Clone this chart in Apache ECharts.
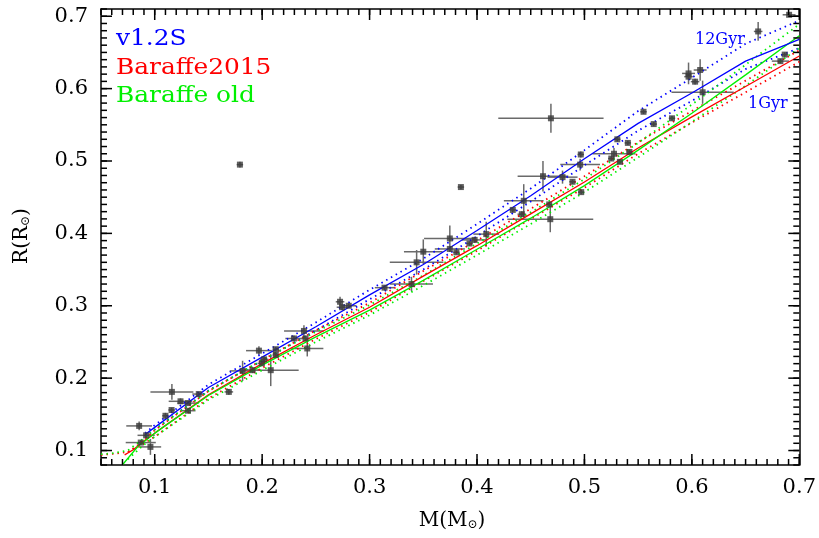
<!DOCTYPE html>
<html>
<head>
<meta charset="utf-8">
<script src="https://cdn.jsdelivr.net/npm/echarts@6.0.0/dist/echarts.min.js"></script>
<style>
  html, body { margin: 0; padding: 0; background: #fff; }
  #chart { width: 819px; height: 538px; }
</style>
</head>
<body>
<div id="chart"></div>
<script>
// observed stars: mass, radius and their errors
const starMass = [0.0855, 0.092, 0.087, 0.096, 0.116, 0.124, 0.131, 0.110, 0.1157, 0.131, 0.141, 0.169,
  0.1818, 0.191, 0.208, 0.197, 0.2018, 0.2127, 0.2127, 0.1997, 0.2296, 0.2389, 0.242, 0.2404,
  0.2725, 0.2744, 0.2806, 0.3139, 0.339, 0.3438, 0.350, 0.3747, 0.3747, 0.3808, 0.393, 0.3978, 0.4086,
  0.4688, 0.4435, 0.4333, 0.4417, 0.4614, 0.4796, 0.4682, 0.4672, 0.4889, 0.4966, 0.496, 0.497,
  0.5306, 0.5404, 0.5275, 0.525, 0.533, 0.5419, 0.555, 0.5645, 0.5815,
  0.5969, 0.5969, 0.6077, 0.603, 0.610, 0.6617, 0.6824, 0.6864, 0.6905, 0.1793, 0.385];
const starMassErr = [0.012, 0.008, 0.014, 0.010, 0.020, 0.011, 0.010, 0.003, 0.003, 0.007, 0.006, 0.004,
  0.012, 0.008, 0.026, 0.012, 0.004, 0.003, 0.003, 0.004, 0.008, 0.0185, 0.015, 0.004,
  0.004, 0.005, 0.007, 0.009, 0.020, 0.025, 0.018, 0.024, 0.014, 0.003, 0.003, 0.012, 0.012,
  0.049, 0.0185, 0.003, 0.004, 0.0236, 0.014, 0.040, 0.003, 0.003, 0.003, 0.0185, 0.003,
  0.003, 0.003, 0.020, 0.003, 0.003, 0.003, 0.003, 0.003, 0.003,
  0.006, 0.004, 0.006, 0.004, 0.029, 0.004, 0.008, 0.003, 0.006, 0.003, 0.003];
const starR = [0.134, 0.121, 0.111, 0.105, 0.181, 0.168, 0.1655, 0.148, 0.156, 0.155, 0.178, 0.181,
  0.210, 0.211, 0.211, 0.238, 0.226, 0.240, 0.232, 0.2205, 0.2548, 0.2652, 0.241, 0.2548,
  0.3055, 0.298, 0.300, 0.325, 0.330, 0.360, 0.3747, 0.393, 0.3785, 0.3738, 0.386, 0.391, 0.399,
  0.559, 0.445, 0.4324, 0.4265, 0.479, 0.4777, 0.4196, 0.440, 0.4713, 0.509, 0.495, 0.457,
  0.530, 0.525, 0.510, 0.5034, 0.4988, 0.5125, 0.568, 0.551, 0.559,
  0.621, 0.6165, 0.6257, 0.6096, 0.595, 0.679, 0.638, 0.647, 0.702, 0.495, 0.464];
const starRErr = [0.006, 0.004, 0.003, 0.011, 0.011, 0.004, 0.003, 0.004, 0.003, 0.003, 0.003, 0.004,
  0.014, 0.004, 0.022, 0.006, 0.004, 0.003, 0.003, 0.003, 0.004, 0.008, 0.011, 0.004,
  0.007, 0.004, 0.003, 0.003, 0.010, 0.017, 0.017, 0.018, 0.004, 0.003, 0.003, 0.004, 0.017,
  0.020, 0.023, 0.003, 0.004, 0.021, 0.009, 0.018, 0.003, 0.003, 0.004, 0.008, 0.003,
  0.003, 0.003, 0.008, 0.003, 0.003, 0.003, 0.003, 0.003, 0.003,
  0.015, 0.004, 0.015, 0.004, 0.016, 0.013, 0.003, 0.003, 0.003, 0.004, 0.003];

// v1.2S tracks (solid = mid age, dotted = 12 Gyr and 1 Gyr)
const v12sMass = [0.091, 0.1, 0.15, 0.2, 0.25, 0.3, 0.35, 0.4, 0.45, 0.5, 0.55, 0.6, 0.65, 0.7];
const v12sR = [0.122, 0.132, 0.187, 0.229, 0.271, 0.315, 0.357, 0.404, 0.452, 0.503, 0.552, 0.594, 0.638, 0.668];
const v12sR12 = [0.124, 0.135, 0.191, 0.234, 0.277, 0.322, 0.365, 0.413, 0.462, 0.515, 0.569, 0.615, 0.662, 0.694];
const v12sR1 = [0.120, 0.129, 0.183, 0.224, 0.266, 0.309, 0.350, 0.396, 0.444, 0.494, 0.542, 0.583, 0.627, 0.656];

// Baraffe 2015 tracks
const bhac15Mass = [0.072, 0.08, 0.09, 0.1, 0.15, 0.2, 0.25, 0.3, 0.35, 0.4, 0.45, 0.5, 0.55, 0.6, 0.65, 0.7];
const bhac15R = [0.094, 0.101, 0.113, 0.124, 0.177, 0.220, 0.260, 0.298, 0.341, 0.383, 0.427, 0.471, 0.518, 0.561, 0.603, 0.645];
const bhac15Mass12 = [0.075, 0.085, 0.1, 0.15, 0.2, 0.25, 0.3, 0.35, 0.4, 0.45, 0.5, 0.55, 0.6, 0.65, 0.7];
const bhac15R12 = [0.098, 0.108, 0.128, 0.182, 0.225, 0.266, 0.304, 0.348, 0.390, 0.434, 0.479, 0.526, 0.569, 0.611, 0.653];
const bhac15Mass1 = [0.05, 0.065, 0.075, 0.085, 0.1, 0.15, 0.2, 0.25, 0.3, 0.35, 0.4, 0.45, 0.5, 0.55, 0.6, 0.65, 0.7];
const bhac15R1 = [0.094, 0.096, 0.098, 0.105, 0.119, 0.172, 0.214, 0.254, 0.291, 0.334, 0.376, 0.420, 0.463, 0.510, 0.553, 0.595, 0.637];

// old Baraffe tracks
const bcahMass = [0.0704, 0.0843, 0.1, 0.15, 0.2, 0.25, 0.3, 0.35, 0.4, 0.45, 0.5, 0.55, 0.6, 0.65, 0.7];
const bcahR = [0.081, 0.1055, 0.124, 0.176, 0.218, 0.257, 0.294, 0.335, 0.378, 0.421, 0.466, 0.515, 0.566, 0.619, 0.673];
const bcahMass12 = [0.05, 0.06, 0.075, 0.09, 0.1, 0.15, 0.2, 0.25, 0.3, 0.35, 0.4, 0.45, 0.5, 0.55, 0.6, 0.65, 0.7];
const bcahR12 = [0.095, 0.096, 0.100, 0.117, 0.129, 0.182, 0.225, 0.264, 0.301, 0.342, 0.386, 0.429, 0.475, 0.525, 0.578, 0.633, 0.689];
const bcahMass1 = [0.075, 0.09, 0.1, 0.15, 0.2, 0.25, 0.3, 0.35, 0.4, 0.45, 0.5, 0.55, 0.6, 0.65, 0.7];
const bcahR1 = [0.088, 0.108, 0.119, 0.170, 0.211, 0.250, 0.287, 0.328, 0.370, 0.413, 0.457, 0.505, 0.554, 0.604, 0.656];

const xMajorTicks = [0.1, 0.2, 0.3, 0.4, 0.5, 0.6, 0.7];
const yMajorTicks = [0.1, 0.2, 0.3, 0.4, 0.5, 0.6, 0.7];
const X_MIN = 0.05, X_MAX = 0.7, Y_MIN = 0.08, Y_MAX = 0.71;

const minorTicks = (lo, hi) => {
  const out = [];
  for (let k = Math.ceil(lo * 100 - 1e-6); k <= Math.floor(hi * 100 + 1e-6); k++) out.push(k / 100);
  return out;
};
const xMinorTicks = minorTicks(X_MIN, X_MAX);
const yMinorTicks = minorTicks(Y_MIN, Y_MAX);

const FONT = "DejaVu Serif";
const BLUE = "#0000ff", RED = "#ff0000", GREEN = "#00f000";
const MAJOR = 11, MINOR = 6, TICK_W = 1.5, TICK_COLOR = "#000";

const zip = (xs, ys) => xs.map((x, i) => [x, ys[i]]);

const makeAxis = (kind, position, withLabels) => ({
  type: "value",
  position,
  min: kind === "x" ? X_MIN : Y_MIN,
  max: kind === "x" ? X_MAX : Y_MAX,
  axisLine: { show: true, onZero: false, lineStyle: { color: "#000", width: 1.5 } },
  axisTick: { show: false },
  axisLabel: withLabels
    ? {
        show: true,
        customValues: kind === "x" ? xMajorTicks : yMajorTicks,
        formatter: (v) => v.toFixed(1),
        fontFamily: FONT,
        fontSize: 21,
        color: "#000",
        margin: kind === "x" ? 12 : 13,
      }
    : { show: false },
  splitLine: { show: false },
});

// inward tick marks drawn as thin rectangles anchored on the frame
const tickMarks = (points, size, offset) => ({
  type: "scatter",
  xAxisIndex: 0,
  yAxisIndex: 0,
  data: points,
  symbol: "rect",
  symbolSize: size,
  symbolOffset: offset,
  clip: false,
  silent: true,
  itemStyle: { color: TICK_COLOR, opacity: 1 },
  z: 10,
});

const xTicks = (values, len) => [
  tickMarks(values.map((v) => [v, Y_MIN]), [TICK_W, len], [0, -len / 2]),
  tickMarks(values.map((v) => [v, Y_MAX]), [TICK_W, len], [0, len / 2]),
];
const yTicks = (values, len) => [
  tickMarks(values.map((v) => [X_MIN, v]), [len, TICK_W], [len / 2, 0]),
  tickMarks(values.map((v) => [X_MAX, v]), [len, TICK_W], [-len / 2, 0]),
];

const lineSeries = (xs, ys, color, dotted) => ({
  type: "line",
  xAxisIndex: 0,
  yAxisIndex: 0,
  data: zip(xs, ys),
  showSymbol: false,
  symbol: "none",
  silent: true,
  clip: true,
  lineStyle: dotted ? { color, width: 1.8, type: [1.5, 4] } : { color, width: 1.3 },
  z: 3,
});

const legendText = (text, color, top) => ({
  type: "text",
  x: 116,
  y: top,
  scaleX: 1.13,
  style: { text, fill: color, font: `22px "${FONT}"` },
});

const chart = echarts.init(document.getElementById("chart"), null, { renderer: "canvas" });

chart.setOption({
  animation: false,
  grid: { left: 101, right: 16, top: 9, bottom: 73, containLabel: false },
  xAxis: [makeAxis("x", "bottom", true), makeAxis("x", "top", false)],
  yAxis: [makeAxis("y", "left", true), makeAxis("y", "right", false)],
  series: [
    {
      type: "custom",
      xAxisIndex: 0,
      yAxisIndex: 0,
      clip: true,
      silent: true,
      z: 2,
      data: starMass.map((m, i) => [m, starR[i], starMassErr[i], starRErr[i]]),
      encode: { x: 0, y: 1 },
      renderItem: (params, api) => {
        const x = api.value(0), y = api.value(1), dx = api.value(2), dy = api.value(3);
        const l = api.coord([x - dx, y]), r = api.coord([x + dx, y]);
        const t = api.coord([x, y + dy]), b = api.coord([x, y - dy]);
        const style = { stroke: "#6a6a6a", lineWidth: 1.5 };
        return {
          type: "group",
          children: [
            { type: "line", shape: { x1: l[0], y1: l[1], x2: r[0], y2: r[1] }, style },
            { type: "line", shape: { x1: t[0], y1: t[1], x2: b[0], y2: b[1] }, style },
          ],
        };
      },
    },
    lineSeries(v12sMass, v12sR12, BLUE, true),
    lineSeries(v12sMass, v12sR1, BLUE, true),
    lineSeries(bhac15Mass12, bhac15R12, RED, true),
    lineSeries(bhac15Mass1, bhac15R1, RED, true),
    lineSeries(bcahMass12, bcahR12, GREEN, true),
    lineSeries(bcahMass1, bcahR1, GREEN, true),
    lineSeries(bhac15Mass, bhac15R, RED, false),
    lineSeries(bcahMass, bcahR, GREEN, false),
    lineSeries(v12sMass, v12sR, BLUE, false),
    {
      type: "scatter",
      xAxisIndex: 0,
      yAxisIndex: 0,
      data: zip(starMass, starR),
      symbol: "rect",
      symbolSize: 6,
      silent: true,
      itemStyle: { color: "#3a3a3a" },
      z: 4,
    },
    ...xTicks(xMajorTicks, MAJOR),
    ...xTicks(xMinorTicks, MINOR),
    ...yTicks(yMajorTicks, MAJOR),
    ...yTicks(yMinorTicks, MINOR),
  ],
  graphic: [
    legendText("v1.2S", BLUE, 28),
    legendText("Baraffe2015", RED, 57),
    legendText("Baraffe old", GREEN, 85),
    { type: "text", x: 695, y: 32, style: { text: "12Gyr", fill: BLUE, font: `16px "${FONT}"` } },
    { type: "text", x: 748, y: 96, style: { text: "1Gyr", fill: BLUE, font: `16px "${FONT}"` } },
    {
      type: "text",
      x: 452,
      y: 521,
      style: {
        text: "M(M{s|⊙})",
        fill: "#000",
        font: `20px "${FONT}"`,
        align: "center",
        verticalAlign: "middle",
        rich: { s: { fontSize: 12, fontFamily: FONT, verticalAlign: "bottom", padding: [8, 0, 0, 0], fill: "#000" } },
      },
    },
    {
      type: "text",
      x: 22,
      y: 236,
      rotation: Math.PI / 2,
      style: {
        text: "R(R{s|⊙})",
        fill: "#000",
        font: `20px "${FONT}"`,
        align: "center",
        verticalAlign: "middle",
        rich: { s: { fontSize: 12, fontFamily: FONT, verticalAlign: "bottom", padding: [8, 0, 0, 0], fill: "#000" } },
      },
    },
  ],
});
</script>
</body>
</html>
